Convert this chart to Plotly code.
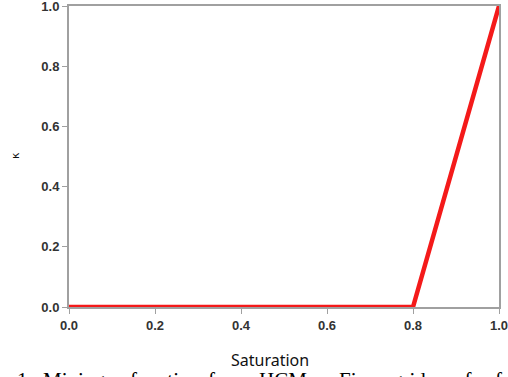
import plotly.graph_objects as go

saturation = [0.0, 0.8, 1.0]
kappa = [0.0, 0.0, 1.0]
x_ticks = [0.0, 0.2, 0.4, 0.6, 0.8, 1.0]
x_ticklabels = ["0.0", "0.2", "0.4", "0.6", "0.8", "1.0"]
y_ticks = [0.0, 0.2, 0.4, 0.6, 0.8, 1.0]
y_ticklabels = ["0.0", "0.2", "0.4", "0.6", "0.8", "1.0"]
caption_words = ["1:", "Mixing", "function", "for", "HCM.", "Fine", "grid", "of", "f"]

W, H = 508, 377
ML, MR, MT, MB = 69, 9, 6, 70
PW, PH = W - ML - MR, H - MT - MB

def px_x(px):
    return (px - ML) / PW

def px_y(py):
    return (H - MB - py) / PH

fig = go.Figure()
fig.add_trace(go.Scatter(x=saturation, y=kappa, mode="lines",
                         line=dict(color="#f41a1a", width=4.5),
                         cliponaxis=False, showlegend=False, hoverinfo="skip"))

axis_common = dict(showgrid=False, zeroline=False, showline=True, linecolor="#a0a0a0",
                   linewidth=2, mirror=True, ticks="outside", ticklen=5, tickwidth=1,
                   tickcolor="#a0a0a0", automargin=False, ticklabeloverflow="allow",
                   tickfont=dict(family="Liberation Sans, Arial", size=13, color="#333333", weight="bold"))

fig.update_xaxes(range=[0, 1], tickvals=x_ticks, ticktext=x_ticklabels, **axis_common)
fig.update_yaxes(range=[0, 1], tickvals=y_ticks, ticktext=y_ticklabels, **axis_common)

fig.add_annotation(text="Saturation", xref="paper", yref="paper", x=px_x(270), y=px_y(360),
                   xanchor="center", yanchor="middle", showarrow=False,
                   font=dict(family="Noto Sans", size=16, color="#111111"))
fig.add_annotation(text="κ", xref="paper", yref="paper", x=px_x(15), y=px_y(155),
                   xanchor="center", yanchor="middle", showarrow=False, textangle=-90,
                   font=dict(family="DejaVu Sans", size=11, color="#111111"))

# caption (cut off at the bottom edge, as in the reference), justified word spacing
caption_x_px = [15, 41, 128, 206, 257, 337, 390, 452, 493]
for word, xp in zip(caption_words, caption_x_px):
    fig.add_annotation(text=word, xref="paper", yref="paper", x=px_x(xp), y=px_y(366),
                       xanchor="left", yanchor="top", showarrow=False,
                       font=dict(family="Liberation Serif, Times New Roman", size=21, color="#000000"))

fig.update_layout(width=W, height=H,
                  margin=dict(l=ML, r=MR, t=MT, b=MB, autoexpand=False),
                  plot_bgcolor="white", paper_bgcolor="white")

fig.write_html("out.html", config={"displayModeBar": False},
               post_script="document.body.style.margin='0px';document.body.style.overflow='hidden';")
